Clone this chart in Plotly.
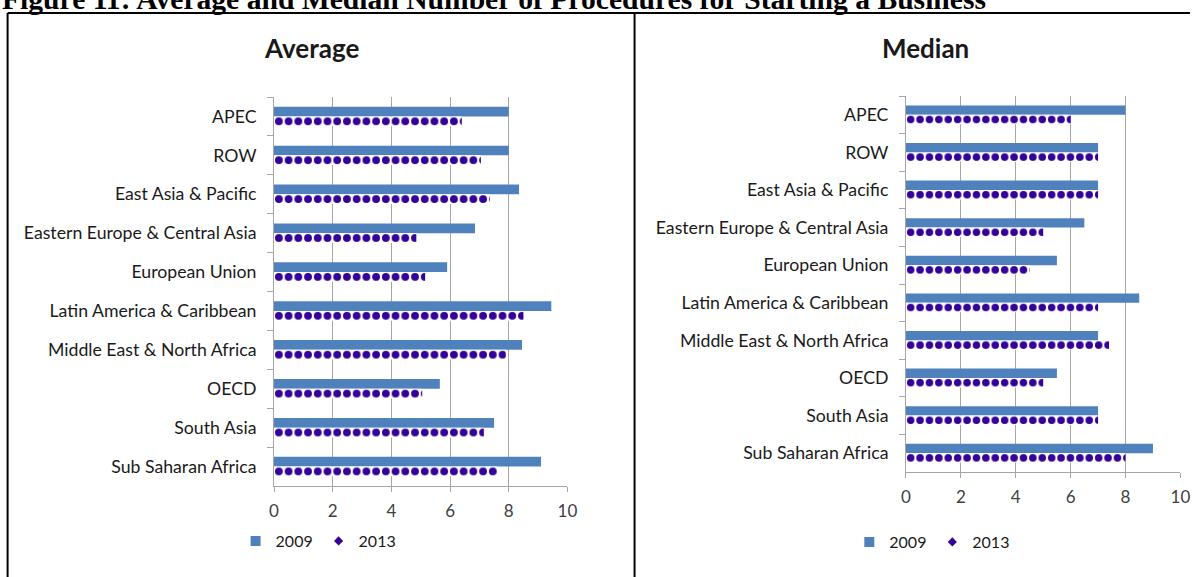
import plotly.graph_objects as go

categories = ["APEC", "ROW", "East Asia & Pacific", "Eastern Europe & Central Asia",
              "European Union", "Latin America & Caribbean", "Middle East & North Africa",
              "OECD", "South Asia", "Sub Saharan Africa"]
avg_2009 = [8.0, 8.0, 8.35, 6.85, 5.9, 9.45, 8.45, 5.65, 7.5, 9.1]
avg_2013 = [6.4, 7.05, 7.35, 4.85, 5.15, 8.5, 7.9, 5.05, 7.15, 7.6]
med_2009 = [8, 7, 7, 6.5, 5.5, 8.5, 7, 5.5, 7, 9]
med_2013 = [6, 7, 7, 5, 4.5, 7, 7.4, 5, 7, 8]
x_ticks = [0, 2, 4, 6, 8, 10]
series_names = ["2009", "2013"]
panel_titles = ["Average", "Median"]
fig_title = "Figure 11: Average and Median Number of Procedures for Starting a Business"

W, H = 1200, 577
BLUE = "#4F81BD"
PURPLE = "#330099"
GRID = "#A6A6A6"
FONT = "Lato"


def fx(p):
    # horizontal pixel target -> figure pixel (compensates the capture's horizontal fit)
    return (p - 5.4) / 0.986


# plot areas in pixels (left, right, top, bottom)
L_AREA = (fx(274), fx(567), 97, 486)
R_AREA = (fx(905), fx(1179), 96, 472)


def px_dom_x(a):
    return [a[0] / W, a[1] / W]


def px_dom_y(a):
    return [1 - a[3] / H, 1 - a[2] / H]


def py(p):
    return 1 - p / H


fig = go.Figure()

for (v09, v13, area, xa, ya, leg) in [
    (avg_2009, avg_2013, L_AREA, "x", "y", "legend"),
    (med_2009, med_2013, R_AREA, "x2", "y2", "legend2"),
]:
    tile = (area[3] - area[2]) / len(categories) / 4.0
    fig.add_trace(go.Bar(
        x=v09, y=categories, orientation="h", name=series_names[0],
        marker=dict(color=BLUE, line=dict(width=0)),
        xaxis=xa, yaxis=ya, showlegend=False))
    fig.add_trace(go.Bar(
        x=v13, y=categories, orientation="h", name=series_names[1],
        marker=dict(color=PURPLE, line=dict(width=0),
                    pattern=dict(shape=".", fillmode="replace", bgcolor="white",
                                 fgcolor=PURPLE, size=tile, solidity=0.5)),
        xaxis=xa, yaxis=ya, showlegend=False))
    fig.add_trace(go.Scatter(
        x=[None], y=[None], mode="markers", name=series_names[0],
        marker=dict(symbol="square", size=10, color=BLUE),
        xaxis=xa, yaxis=ya, legend=leg))
    fig.add_trace(go.Scatter(
        x=[None], y=[None], mode="markers", name=series_names[1],
        marker=dict(symbol="diamond", size=7, color=PURPLE),
        xaxis=xa, yaxis=ya, legend=leg))

xcommon = dict(range=[0, 10], tickvals=x_ticks, showgrid=True, gridcolor=GRID, gridwidth=1,
               showline=True, linecolor=GRID, linewidth=1, ticks="outside", ticklen=5,
               tickcolor=GRID, zeroline=False, fixedrange=True,
               tickfont=dict(family=FONT, size=17, color="#404040"), ticklabelstandoff=5)
ycommon = dict(type="category", categoryorder="array", categoryarray=categories,
               autorange="reversed", tickson="boundaries", ticks="outside", ticklen=6,
               tickcolor=GRID, showline=True, linecolor=GRID, linewidth=1, showgrid=False,
               tickfont=dict(family=FONT, size=17.7, color="#1a1a1a"), ticklabelstandoff=13)

legend_font = dict(family=FONT, size=16, color="#1a1a1a")
fig.update_layout(
    width=W, height=H,
    margin=dict(l=0, r=0, t=0, b=0),
    paper_bgcolor="white", plot_bgcolor="white",
    barmode="group", bargap=0.5, bargroupgap=0,
    xaxis=dict(domain=px_dom_x(L_AREA), anchor="y", **xcommon),
    yaxis=dict(domain=px_dom_y(L_AREA), anchor="x", **ycommon),
    xaxis2=dict(domain=px_dom_x(R_AREA), anchor="y2", **xcommon),
    yaxis2=dict(domain=px_dom_y(R_AREA), anchor="x2", **ycommon),
    legend=dict(orientation="h", x=233.5 / W, y=py(541), xanchor="left", yanchor="middle",
                entrywidth=38, entrywidthmode="pixels",
                font=legend_font, bgcolor="rgba(0,0,0,0)"),
    legend2=dict(orientation="h", x=855 / W, y=py(542), xanchor="left", yanchor="middle",
                 entrywidth=38, entrywidthmode="pixels",
                 font=legend_font, bgcolor="rgba(0,0,0,0)"),
    showlegend=True,
)

annotations = [
    dict(text="<b>" + fig_title + "</b>", x=fx(0) / W, y=py(-1), xref="paper", yref="paper",
         xanchor="left", yanchor="middle", showarrow=False,
         font=dict(family="Liberation Serif", size=29.6, color="black")),
    dict(text="<b>" + panel_titles[0] + "</b>", x=fx(311) / W, y=py(48), xref="paper", yref="paper",
         xanchor="center", yanchor="middle", showarrow=False,
         font=dict(family=FONT, size=26, color="#1a1a1a")),
    dict(text="<b>" + panel_titles[1] + "</b>", x=fx(925) / W, y=py(48), xref="paper", yref="paper",
         xanchor="center", yanchor="middle", showarrow=False,
         font=dict(family=FONT, size=26, color="#1a1a1a")),
]
fig.update_layout(annotations=annotations)

shapes = [
    dict(type="line", xref="paper", yref="paper", x0=fx(8) / W, x1=1.0, y0=py(13), y1=py(13),
         line=dict(color="black", width=2)),
    dict(type="line", xref="paper", yref="paper", x0=fx(8) / W, x1=fx(8) / W, y0=py(13), y1=0,
         line=dict(color="black", width=2)),
    dict(type="line", xref="paper", yref="paper", x0=fx(634) / W, x1=fx(634) / W, y0=py(13), y1=0,
         line=dict(color="black", width=2)),
]
fig.update_layout(shapes=shapes)

fig.write_html("out.html", config={"displayModeBar": False},
               post_script="document.body.style.margin='0px';document.body.style.overflow='hidden';")
